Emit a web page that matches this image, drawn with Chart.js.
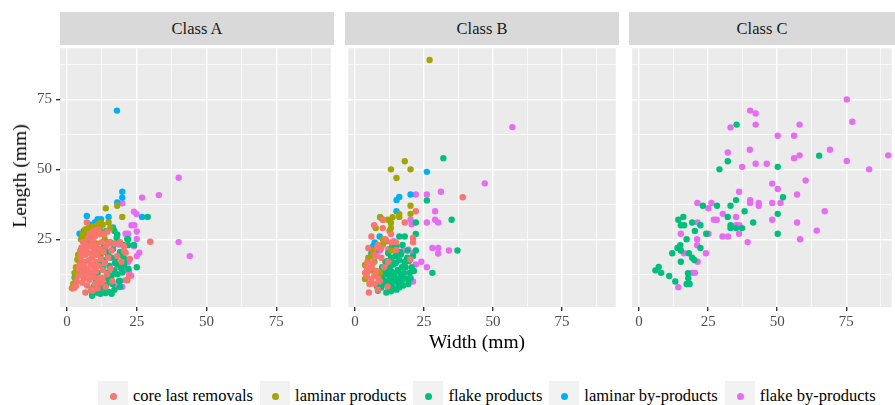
<!DOCTYPE html>
<html>
<head>
<meta charset="utf-8">
<script src="https://cdn.jsdelivr.net/npm/chart.js@4"></script>
<style>
  body { margin: 0; background: #fff; font-family: 'Liberation Serif', 'Times New Roman', serif; }
  #wrap { position: relative; width: 895px; height: 405px; overflow: hidden; }
  .panel { position: absolute; top: 45px; }
  .strip { position: absolute; top: 12px; height: 33px; background: #D9D9D9; color: #1A1A1A;
           font-size: 16.5px; line-height: 33px; text-align: center; }
  .title { position: absolute; color: #000; font-size: 19.5px; white-space: nowrap; }
  #legend { position: absolute; left: 98px; top: 381px; display: flex; align-items: center; }
  .item { display: flex; align-items: center; margin-right: 7px; }
  .key { width: 30px; height: 30px; background: #F2F2F2; position: relative; }
  .key i { position: absolute; left: 12px; top: 12px; width: 7px; height: 7px; border-radius: 50%; }
  .lab { margin-left: 5px; font-size: 16.5px; color: #000; white-space: nowrap; }
</style>
</head>
<body>
<div id="wrap">
  <canvas id="pA" class="panel" style="left:0px" width="334" height="292"></canvas>
  <canvas id="pB" class="panel" style="left:345px" width="274" height="292"></canvas>
  <canvas id="pC" class="panel" style="left:629px" width="266" height="292"></canvas>
  <div class="strip" style="left:60px;width:274px">Class A</div>
  <div class="strip" style="left:345px;width:274px">Class B</div>
  <div class="strip" style="left:629px;width:266px">Class C</div>
  <div class="title" style="left:477px;top:342px;transform:translate(-50%,-50%)">Width (mm)</div>
  <div class="title" style="left:20px;top:176px;transform:translate(-50%,-50%) rotate(-90deg)">Length (mm)</div>
  <div id="legend"></div>
</div>
<script>
// categories and colours (ggplot default hues)
const groups = ['core last removals', 'laminar products', 'flake products', 'laminar by-products', 'flake by-products'];
const colors = ['#F8766D', '#A3A500', '#00BF7D', '#00B0F6', '#E76BF3'];
const facets = ['Class A', 'Class B', 'Class C'];

// axis ticks
const xTicks = [0, 25, 50, 75];
const xTickLabels = ['0', '25', '50', '75'];
const xMinor = [12.5, 37.5, 62.5, 87.5];
const yTicks = [25, 50, 75];
const yTickLabels = ['25', '50', '75'];
const yMinor = [12.5, 37.5, 62.5, 87.5];

// Class A  [width, length]
const aCore = [[2.1,7.5],[2.7,7.8],[3.2,8.3],[3.5,10],[4,12],[4.2,14.5],[4.5,16],[4.8,18.5],[5,20.5],[5.2,22],[5.5,9.5],[5.6,13],[5.8,24],[6,11],[6.2,15],[6.3,17],[6.5,19.5],[6.6,6],[6.8,21.5],[7,23],[7.1,31],[7.2,8.5],[7.3,12.5],[7.5,14],[7.6,25.5],[7.8,17.5],[8,10.5],[8,20],[8.2,27],[8.4,16],[8.5,22.5],[8.7,7],[8.8,13],[9,18.5],[9.2,6.6],[9.2,24.5],[9.4,11.5],[9.5,28],[9.7,15],[9.8,21],[10,9],[10,26],[10.2,17],[10.4,13.5],[10.5,23],[10.7,19.5],[11,7.5],[11,11],[11.2,28.5],[11.4,15.5],[11.6,26.9],[11.8,21.5],[12,9.5],[12.2,18],[12.4,24],[12.7,10.1],[12.7,11.3],[12.9,14],[13.1,20.5],[13.3,26.7],[13.6,16.5],[13.8,8],[14,22.5],[14.3,12.5],[14.5,27.8],[14.8,18.5],[15.2,24],[15.5,14.5],[16,21],[16.3,10],[17,23.5],[18,19],[19,24],[19.5,17],[20.4,22.5],[20.4,20.8],[21,20.2],[21.6,10.4],[22.2,11.9],[22.5,18],[29.8,24.1]];
const aLam = [[1.8,7.5],[2.2,9],[2.7,13],[3,11],[3.2,15],[3.7,17.7],[4,19.5],[4.3,13.5],[4.8,21],[5,25],[5.7,27],[5.5,17],[6.2,23],[6.5,28.5],[7,26.5],[7.1,25.2],[7.8,29],[8.2,24],[8.9,22.4],[9.2,29.6],[9.8,20],[10.6,23.5],[11,30.2],[11.6,20.2],[12.2,28],[12.8,30.2],[13.5,25],[13.9,36.1],[14.9,31],[15.5,29],[18,37],[19.8,33],[6,14],[10,27.5],[12,31]];
const aFlake = [[8.6,6.6],[9,4.8],[9.5,8],[10.4,10.1],[10.5,6],[11,13],[11.6,7.8],[11.6,16],[12,19],[12.7,7.8],[12.5,11],[13,14.5],[13,22],[13.5,17.5],[13.9,11.3],[14,8.5],[14.2,20.5],[14.5,13],[15,6.2],[15.1,10.1],[15.2,15.5],[15.5,18.5],[15.5,24],[16,12],[16.3,9],[16.5,21.5],[16.9,13.9],[17,7],[17.2,16.5],[17.5,18.4],[17.8,25.5],[18,12.5],[18,26.7],[18.4,16],[18.6,10],[19,8],[19,10.1],[19,20.5],[19.5,14.5],[19.8,13.1],[20.2,23],[20.5,16],[21,17.8],[21.6,25.1],[21.9,22.9],[21.9,25],[22,14.5],[24,23],[25,15],[28.9,33],[10,12],[12,5.5],[13.8,5.8],[16,5.5],[11.3,9.5],[14.8,19.2],[17,28],[20,19]];
const aLamBy = [[2.7,11.3],[3,12.5],[4.5,27],[5.9,23.9],[6,28],[7.1,33.3],[8.3,30.2],[10,31],[11,32.2],[12.2,32.2],[14,28],[14.9,33],[16.5,29.2],[18,38.2],[19.8,42],[19.8,39.9],[26.9,33],[17.9,71],[6.5,25.5],[9,26]];
const aFlakeBy = [[11.6,5.7],[12.2,6],[13,9],[14.5,23.1],[15.7,23.7],[16.3,18.4],[16.9,23.1],[17.5,8],[18.6,23.1],[19.8,8],[19.8,37.9],[21,10.4],[21,13.9],[21,27],[21.9,27],[22.2,13.7],[23.1,30],[24,34.9],[24,22.5],[24.1,30],[24.9,34],[25,27.8],[25,25.1],[25,19],[25.9,20.2],[26.9,39.9],[32.9,40.8],[40,47],[40,24],[44,19],[18,15],[22,17],[20,20],[23,12]];

// Class B
const bCore = [[3.6,13],[4.2,14.9],[4.2,11.9],[4.5,17],[4.8,21.9],[4.8,13.7],[5,6],[5.2,9],[5.9,26],[5.9,10.7],[6.5,16.6],[6.9,30],[7.1,9],[7.2,19.5],[7.7,13.7],[8,22],[8.3,7],[8.3,23],[8.5,11],[9,10.1],[9.5,21.9],[9.5,18.4],[10,32],[10,29],[10.5,15],[11,25],[11.8,8.1],[12,17],[13,26.9],[13,23.9],[14.8,23.9],[14.9,21.2],[18,31],[20,17.8],[21,23.9],[21,25.5],[22,35],[39,40],[6,15],[7,12]];
const bLam = [[3.6,15.8],[3.6,10.8],[4,13],[4.8,18.4],[5.9,19],[6.5,21],[7,17],[7.5,29],[9,13.1],[9.1,32.9],[10.1,32],[10.1,24.9],[10.1,23.1],[11.3,24.3],[11.8,32],[12.5,28],[13,29],[13,30.8],[13,21],[13,50],[13.6,32.9],[15,46.9],[16,34],[16,33],[18,52.9],[20.1,50],[20.1,37],[20.1,34.1],[27,89.1],[8,22],[6,14]];
const bFlake = [[8,8],[8.3,6.6],[8.8,12],[9.2,10],[9.5,7.8],[9.8,15],[10.2,13],[10.5,9],[10.7,10.1],[11,17],[11.3,6],[11.5,14],[11.8,12.5],[11.8,17.2],[12,20],[12.3,9],[12.5,11],[12.8,15.5],[13,6.4],[13,13.7],[13,18.4],[13.3,22],[13.6,8],[13.8,11.5],[14,16],[14.2,10.1],[14.4,13],[14.6,19],[14.8,16.6],[15,7],[15,22.5],[15.2,11],[15.5,14],[15.7,9],[16,7.8],[16,17.5],[16,26],[16.3,20.5],[16.6,12.5],[16.6,19.6],[16.8,10],[17,15],[17.2,23],[17.5,8.5],[17.7,13],[18,26],[18,17],[18.3,14.9],[18.5,11],[18.9,18.4],[19,21],[19.3,9],[19.5,17.2],[19.8,13],[20.1,11.1],[20.5,15],[21,19],[21.3,13.7],[22,21],[22,26.9],[22,31],[26,38.9],[28,13],[32,54],[35,32],[37.1,21],[10,11],[12,8],[14,12],[17,11]];
const bLamBy = [[5.9,20],[6.5,22.5],[7.1,23.9],[8.9,26],[9.1,32.9],[15,35],[15,39],[16,40.1],[20.1,41],[26,49.1],[7.5,21]];
const bFlakeBy = [[8,19],[9,21],[12,21.5],[13.5,17],[14,24.3],[15,20],[16,20.5],[17.5,20.9],[18,16],[19.3,21.3],[20.1,32],[21,9.9],[21,20],[22,16],[22,41],[24,17],[26,15],[26,31],[26,41],[28,21.9],[29,35],[29,32],[30.1,31],[30.1,21.9],[30.1,19.9],[31.1,42],[34,21],[47,45],[57,65.1],[20.5,30.4]];

// Class C
const cFlake = [[5.9,13.9],[7.1,15.1],[8,13],[10.9,11.9],[12,20],[13.1,9.9],[13.9,21.9],[14.2,32],[14.9,22.9],[15.1,21],[15.1,17],[15.1,30],[16,33],[16.3,30],[17.2,25],[17.2,9],[17.7,12.9],[17.8,11.1],[18,20],[18.3,9],[19.2,31],[19.2,18.4],[20,17.6],[20.2,28],[22.2,30],[22.2,21.9],[23.1,37],[24.3,27],[28.2,37],[29.1,50],[32.1,52.9],[32.1,33],[33.1,37],[33.1,30],[33.1,29],[35.1,39],[35.1,29],[35.3,66],[37.3,29],[38.2,35],[41.3,31],[50.2,50.9],[50.2,34.1],[50.2,27],[52.1,40],[65.2,54.9]];
const cFlakeBy = [[14.2,7.9],[15.1,27],[16.3,20],[19.2,13],[20.2,13],[21,25],[21,22.9],[21.1,38],[21.2,31],[21.2,17],[24.2,20],[25.1,36.1],[25.1,27],[26.2,38],[27.1,32],[28.1,32],[30.2,26],[30.3,34.1],[32.1,56],[32.2,26],[33.1,65],[35.1,33],[35.1,30],[36.2,42],[36.2,27],[36.3,30],[37.3,50.9],[39.3,24],[40.1,57],[40.2,71],[40.2,39],[40.2,38],[42.2,70],[42.2,66],[42.2,52],[43.3,38],[43.3,37],[46.2,52],[48.2,44.9],[48.2,38],[48.2,32],[50.2,62],[50.2,43],[51.2,38],[56.1,62],[56.1,54],[57.2,41],[57.2,31],[58.1,66],[58.1,55],[58.3,25],[60.3,46],[64.3,28.1],[67.2,35],[69.1,57],[75.2,75],[75.2,53],[77.2,67],[83.3,50],[90.2,55]];

const panelBg = {
  id: 'panelBg',
  beforeDraw(chart) {
    const a = chart.chartArea, c = chart.ctx;
    c.save();
    c.fillStyle = '#EBEBEB';
    c.fillRect(a.left, a.top, a.right - a.left, a.bottom - a.top);
    c.restore();
  }
};

const tickFont = { family: "'Liberation Serif', 'Times New Roman', serif", size: 15 };

function makePanel(id, series, xMax, showY) {
  const datasets = series.map((pts, i) => ({
    label: groups[i],
    data: pts.map(p => ({ x: p[0], y: p[1] })),
    backgroundColor: colors[i],
    borderWidth: 0,
    pointRadius: 3.2,
    pointHoverRadius: 3.2
  }));
  const isMajor = (v, majors) => majors.includes(v);
  return new Chart(document.getElementById(id), {
    type: 'scatter',
    data: { datasets },
    plugins: [panelBg],
    options: {
      responsive: false,
      animation: false,
      events: [],
      layout: { padding: 0 },
      plugins: { legend: { display: false }, tooltip: { enabled: false } },
      scales: {
        x: {
          type: 'linear', min: -2.5, max: xMax,
          afterBuildTicks: s => { s.ticks = xTicks.concat(xMinor).sort((a, b) => a - b).map(v => ({ value: v })); },
          afterFit: s => { s.height = 30; s.paddingLeft = 0; s.paddingRight = 0; },
          border: { display: false },
          grid: {
            color: '#FFFFFF',
            lineWidth: c => (c.tick && isMajor(c.tick.value, xTicks)) ? 1.4 : 0.7,
            tickColor: c => (c.tick && isMajor(c.tick.value, xTicks)) ? '#333333' : 'rgba(0,0,0,0)',
            tickWidth: 1.4,
            tickLength: 4
          },
          ticks: {
            autoSkip: false, maxRotation: 0, padding: 2,
            color: '#4D4D4D', font: tickFont,
            callback: v => { const k = xTicks.indexOf(v); return k >= 0 ? xTickLabels[k] : ''; }
          }
        },
        y: {
          type: 'linear', min: 0.8, max: 93.3,
          afterBuildTicks: s => { s.ticks = yTicks.concat(yMinor).sort((a, b) => a - b).map(v => ({ value: v })); },
          afterFit: s => { s.width = showY ? 60 : 0; s.paddingTop = 0; s.paddingBottom = 0; },
          border: { display: false },
          grid: {
            color: '#FFFFFF',
            lineWidth: c => (c.tick && isMajor(c.tick.value, yTicks)) ? 1.4 : 0.7,
            drawTicks: showY,
            tickColor: c => (c.tick && isMajor(c.tick.value, yTicks)) ? '#333333' : 'rgba(0,0,0,0)',
            tickWidth: 1.4,
            tickLength: 4
          },
          ticks: {
            display: showY, autoSkip: false, padding: 4,
            color: '#4D4D4D', font: tickFont,
            callback: v => { const k = yTicks.indexOf(v); return k >= 0 ? yTickLabels[k] : ''; }
          }
        }
      }
    }
  });
}

makePanel('pA', [aCore, aLam, aFlake, aLamBy, aFlakeBy], 94.5, true);
makePanel('pB', [bCore, bLam, bFlake, bLamBy, bFlakeBy], 94.5, false);
makePanel('pC', [[], [], cFlake, [], cFlakeBy], 91.5, false);

// legend
const legend = document.getElementById('legend');
groups.forEach((g, i) => {
  const item = document.createElement('div');
  item.className = 'item';
  item.innerHTML = '<span class="key"><i style="background:' + colors[i] + '"></i></span><span class="lab">' + g + '</span>';
  legend.appendChild(item);
});
</script>
</body>
</html>
